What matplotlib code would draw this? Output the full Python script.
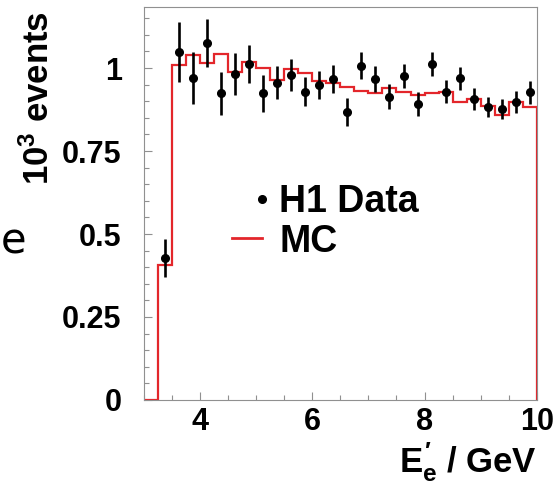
import numpy as np
import matplotlib
matplotlib.use("Agg")
import matplotlib.pyplot as plt
from matplotlib.lines import Line2D
from matplotlib.legend_handler import HandlerLine2D
from matplotlib.ticker import MultipleLocator

plt.rcParams["font.family"] = ["Liberation Sans", "DejaVu Sans"]
plt.rcParams["font.weight"] = "bold"
plt.rcParams["mathtext.fontset"] = "custom"
plt.rcParams["mathtext.rm"] = "Liberation Sans:bold"
plt.rcParams["mathtext.it"] = "Liberation Sans:bold"
plt.rcParams["mathtext.bf"] = "Liberation Sans:bold"

# bin edges in E'_e (GeV)
edges = [3.0, 3.25, 3.5, 3.75, 4.0, 4.25, 4.5, 4.75, 5.0, 5.25, 5.5, 5.75,
         6.0, 6.25, 6.5, 6.75, 7.0, 7.25, 7.5, 7.75, 8.0, 8.25, 8.5, 8.75,
         9.0, 9.25, 9.5, 9.75, 10.0]

# MC prediction per bin (10^3 events)
mc_vals = [0.0, 0.407, 1.009, 1.039, 1.016, 1.042, 0.989, 1.018, 0.999, 0.964,
           0.996, 0.984, 0.962, 0.956, 0.944, 0.932, 0.926, 0.939, 0.929,
           0.920, 0.924, 0.929, 0.899, 0.908, 0.886, 0.858, 0.899, 0.883]

# H1 data, one point per bin from 3.25 GeV on
data_vals = [0.427, 1.049, 0.969, 1.076, 0.924, 0.982, 1.012, 0.924, 0.956,
             0.979, 0.929, 0.949, 0.967, 0.868, 1.007, 0.967, 0.914, 0.977,
             0.892, 1.012, 0.929, 0.969, 0.907, 0.883, 0.876, 0.898, 0.927]
data_err = [0.058, 0.090, 0.078, 0.073, 0.065, 0.062, 0.058, 0.055, 0.050,
            0.049, 0.044, 0.043, 0.043, 0.042, 0.040, 0.039, 0.037, 0.036,
            0.036, 0.035, 0.035, 0.035, 0.033, 0.031, 0.031, 0.034, 0.034]

edges_arr = np.array(edges)
centers = 0.5 * (edges_arr[2:] + edges_arr[1:-1])

red = "#e3262b"
grey = "#909090"


class RightMarker(HandlerLine2D):
    # put the legend marker at the right end of the handle
    def create_artists(self, *args, **kwargs):
        arts = super().create_artists(*args, **kwargs)
        for a in arts:
            a.set_markevery([2])
        return arts


fig = plt.figure(figsize=(5.58, 4.84), dpi=100)
ax = fig.add_axes([0.258, 0.1736, 0.704, 0.812])

ax.stairs(mc_vals, edges, baseline=0, color=red, linewidth=1.6, zorder=2)
ax.errorbar(centers, data_vals, yerr=data_err, fmt="o", color="black",
            ms=5.5, elinewidth=1.9, capsize=0, zorder=3)

ax.set_xlim(3, 10)
ax.set_ylim(0, 1.184)
ax.set_xticks([4, 6, 8, 10])
ax.xaxis.set_minor_locator(MultipleLocator(0.5))
ax.set_yticks([0, 0.25, 0.5, 0.75, 1])
ax.set_yticklabels(["0", "0.25", "0.5", "0.75", "1"])
ax.yaxis.set_minor_locator(MultipleLocator(0.05))

ax.tick_params(which="both", direction="in", color=grey, labelsize=22,
               top=False, right=False)
ax.tick_params(which="major", length=6, width=0.8)
ax.tick_params(which="minor", length=3.5, width=0.8)
ax.tick_params(axis="y", pad=16)
ax.tick_params(axis="x", pad=5)
for lab in ax.get_xticklabels() + ax.get_yticklabels():
    lab.set_fontweight("bold")
for sp in ax.spines.values():
    sp.set_color(grey)
    sp.set_linewidth(0.8)

ax.set_xlabel(r"$E^{\prime}_{e}$ / GeV", fontsize=25, fontweight="bold",
              loc="right")
ax.xaxis.set_label_coords(1.0, -0.102)
ax.set_ylabel(r"$10^{3}$ events", fontsize=25, fontweight="bold", loc="top")
ax.yaxis.set_label_coords(-0.225, 0.99)

data_handle = Line2D([], [], ls="none", marker="o", color="black", ms=5.5)
mc_handle = Line2D([], [], color=red, linewidth=2)
ax.legend([data_handle, mc_handle], ["H1 Data", "MC"], loc="upper left",
          bbox_to_anchor=(0.225, 0.55), frameon=False,
          prop={"size": 27, "weight": "bold"}, handlelength=0.8,
          handletextpad=0.45, labelspacing=0.1, borderpad=0,
          borderaxespad=0, handler_map={data_handle: RightMarker()})

# stray slide glyph at the left edge
fig.text(0.002, 0.5, "e", fontsize=30, fontweight="normal",
         family="DejaVu Sans", va="center", ha="left")

fig.savefig("out.png", dpi=100)
